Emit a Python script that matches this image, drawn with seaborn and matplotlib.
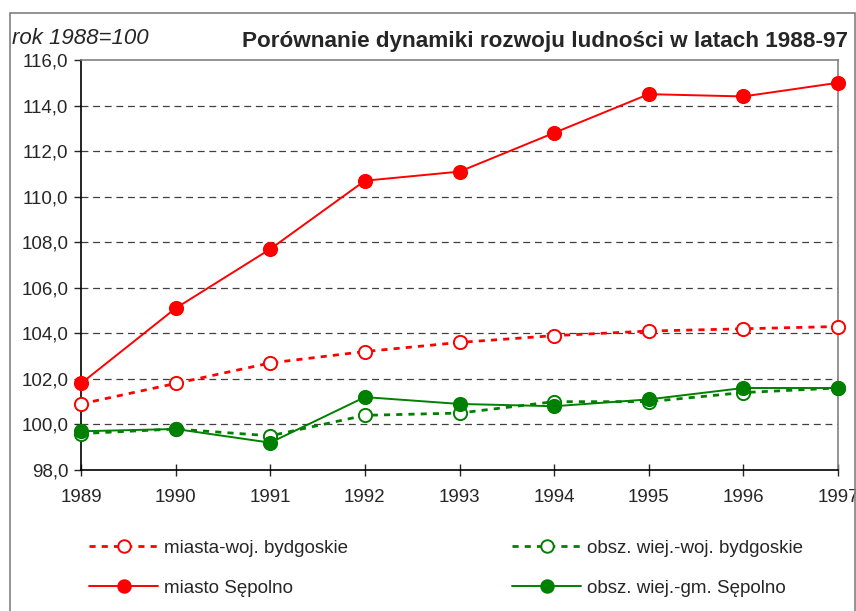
import matplotlib
matplotlib.use("Agg")
import matplotlib.pyplot as plt
from matplotlib.ticker import FuncFormatter, MultipleLocator
from matplotlib.lines import Line2D
from matplotlib.patches import Rectangle
import pandas as pd
import seaborn as sns

years = [1989, 1990, 1991, 1992, 1993, 1994, 1995, 1996, 1997]
miasta_woj = [100.9, 101.8, 102.7, 103.2, 103.6, 103.9, 104.1, 104.2, 104.3]
wies_woj = [99.6, 99.8, 99.5, 100.4, 100.5, 101.0, 101.0, 101.4, 101.6]
miasto_sepolno = [101.8, 105.1, 107.7, 110.7, 111.1, 112.8, 114.5, 114.4, 115.0]
wies_sepolno = [99.7, 99.8, 99.2, 101.2, 100.9, 100.8, 101.1, 101.6, 101.6]

labels = ["miasta-woj. bydgoskie", "obsz. wiej.-woj. bydgoskie",
          "miasto Sępolno", "obsz. wiej.-gm. Sępolno"]

df = pd.DataFrame({"rok": years, labels[0]: miasta_woj, labels[1]: wies_woj,
                   labels[2]: miasto_sepolno, labels[3]: wies_sepolno})

sns.set_style("white")
plt.rcParams["font.family"] = ["Liberation Sans", "DejaVu Sans"]

RED = "#ff0000"
GREEN = "#008000"
dots = (0, (2.2, 2.2))
styles = {
    labels[0]: dict(color=RED, linestyle=dots, mfc="white", mec=RED),
    labels[1]: dict(color=GREEN, linestyle=dots, mfc="white", mec=GREEN),
    labels[2]: dict(color=RED, linestyle="-", mfc=RED, mec=RED),
    labels[3]: dict(color=GREEN, linestyle="-", mfc=GREEN, mec=GREEN),
}
lw = {labels[0]: 2.0, labels[1]: 2.0, labels[2]: 1.4, labels[3]: 1.4}

fig = plt.figure(figsize=(8.56, 6.11), dpi=100)
fig.patches.append(Rectangle((10 / 856, -0.02), 845 / 856, 1.02 - 13 / 611,
                             transform=fig.transFigure, fill=False,
                             edgecolor="#808080", linewidth=1.2))
ax = fig.add_axes([81 / 856, 1 - 470 / 611, (838 - 81) / 856, (470 - 60) / 611])

for name in labels:
    st = styles[name]
    sns.lineplot(data=df, x="rok", y=name, ax=ax, color=st["color"],
                 linewidth=lw[name], zorder=3)
    line = ax.lines[-1]
    line.set_linestyle(st["linestyle"])
    line.set_marker("o")
    line.set_markersize(9.5)
    line.set_markerfacecolor(st["mfc"])
    line.set_markeredgecolor(st["mec"])
    line.set_markeredgewidth(1.4)
    line.set_clip_on(False)

ax.set_xlim(1989, 1997)
ax.set_ylim(98, 116)
ax.yaxis.set_major_locator(MultipleLocator(2))
ax.yaxis.set_major_formatter(FuncFormatter(lambda v, p: f"{v:.1f}".replace(".", ",")))
ax.set_xticks(years)
ax.set_xlabel("")
ax.set_ylabel("")
for v in range(100, 116, 2):
    ax.axhline(v, color="#404040", linewidth=0.9, linestyle=(0, (5.5, 3.8)), zorder=1)

for s in ["left", "bottom"]:
    ax.spines[s].set_color("black")
    ax.spines[s].set_linewidth(1.2)
for s in ["top", "right"]:
    ax.spines[s].set_color("#808080")
    ax.spines[s].set_linewidth(1.2)
ax.tick_params(axis="y", direction="out", length=5, width=1, labelsize=13.5, pad=4)
ax.tick_params(axis="x", direction="inout", length=9, width=1, labelsize=13.5, pad=9)
ax.tick_params(left=True, bottom=True)

fig.text(12 / 856, 1 - 38 / 611, "rok 1988=100", fontsize=16, style="italic",
         ha="left", va="center")
fig.text(848 / 856, 1 - 42 / 611, "Porównanie dynamiki rozwoju ludności w latach 1988-97",
         fontsize=16.2, fontweight="bold", ha="right", va="center")

def handle(name):
    st = styles[name]
    return Line2D([], [], color=st["color"], linestyle=st["linestyle"], linewidth=lw[name],
                  marker="o", markersize=9, markerfacecolor=st["mfc"],
                  markeredgecolor=st["mec"], markeredgewidth=1.4)

for col, (a, b) in enumerate([(labels[0], labels[2]), (labels[1], labels[3])]):
    x0 = [72 / 856, 495 / 856][col]
    fig.legend([handle(a), handle(b)], [a, b], loc="upper left",
               bbox_to_anchor=(x0, 1 - 523 / 611), frameon=False, fontsize=13.5,
               handlelength=3.7, handletextpad=0.3, labelspacing=1.2, numpoints=1)

fig.savefig("out.png", dpi=100)
